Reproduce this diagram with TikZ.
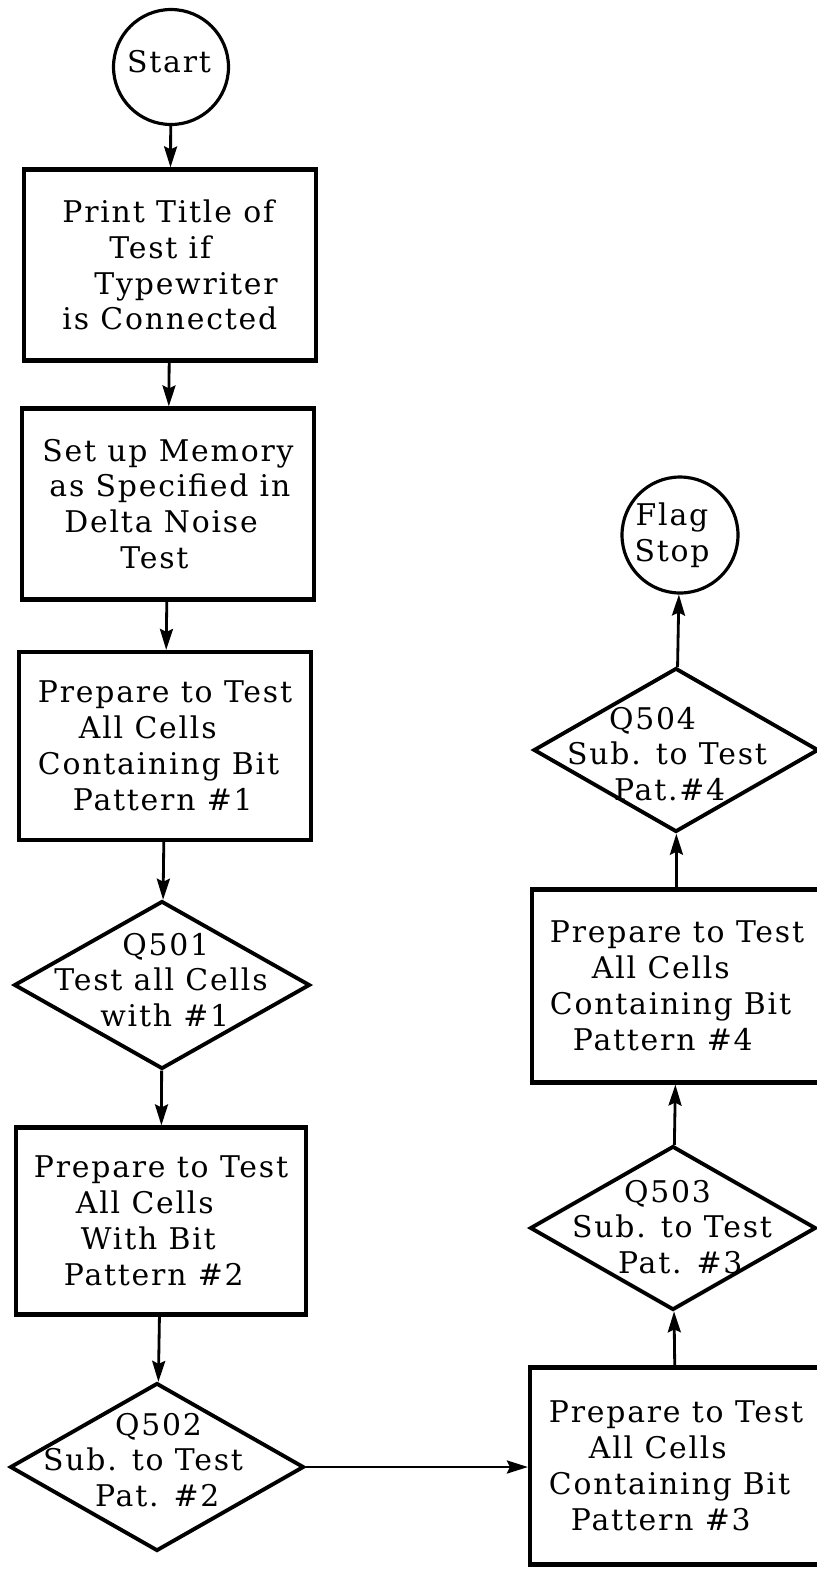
\documentclass[tikz,border=0pt]{standalone}
\usepackage{fontspec}
\setmainfont{DejaVu Serif}[LetterSpace=6]
\usetikzlibrary{shapes.geometric}
\usetikzlibrary{arrows.meta}

% indent in picture pixels
\newcommand{\ind}[1]{\hspace*{#1\dimexpr0.02cm\relax}}

\tikzset{
  txt/.style={font=\fontsize{17}{20.4}\selectfont, align=left},
  box/.style={txt, draw, line width=2.4pt, minimum width=5.84cm, minimum height=3.82cm, inner sep=0pt},
  decision/.style={draw, diamond, line width=2.2pt, minimum width=5.92cm, minimum height=3.36cm, inner sep=0pt},
  term/.style={draw, circle, line width=1.8pt, minimum size=2.3cm, inner sep=0pt},
  flow/.style={-{Stealth[length=0.42cm, width=0.26cm, inset=0.06cm]}, line width=1.6pt}
}

\begin{document}
\begin{tikzpicture}[x=0.02cm, y=-0.02cm]
\useasboundingbox (0,0) rectangle (817,1569);

% left column
\node[term] (start) at (171,67) {};
\node[txt] (startt) at (169,62) {Start};
\node[box] (title) at (170,265) {Print Title of\\\ind{47}Test if\\\ind{32}Typewriter\\is Connected};
\node[box] (memory) at (168,504) {Set up Memory\\\ind{7}as Specified in\\\ind{22}Delta Noise\\\ind{78}Test};
\node[box, minimum height=3.76cm] (pat1) at (165,746) {Prepare to Test\\\ind{41}All Cells\\Containing Bit\\\ind{35}Pattern \#1};
\node[decision] (q501) at (162,985) {};
\node[txt] (q501t) at (161,980) {\ind{68}Q501\\Test all Cells\\\ind{46}with \#1};
\node[box, minimum width=5.8cm, minimum height=3.74cm] (pat2) at (161,1221) {Prepare to Test\\\ind{42}All Cells\\\ind{47}With Bit\\\ind{30}Pattern \#2};
\node[decision, minimum width=5.88cm] (q502) at (157,1467) {};
\node[txt] (q502t) at (143,1460) {\ind{72}Q502\\Sub. to Test\\\ind{52}Pat. \#2};

% right column
\node[box, minimum width=5.84cm, minimum height=3.94cm] (pat3) at (676,1466) {Prepare to Test\\\ind{40}All Cells\\Containing Bit\\\ind{22}Pattern \#3};
\node[decision, minimum width=5.72cm, minimum height=3.28cm] (q503) at (673,1228) {};
\node[txt] (q503t) at (672,1227) {\ind{52}Q503\\Sub. to Test\\\ind{46}Pat. \#3};
\node[box, minimum width=5.8cm, minimum height=3.86cm] (pat4) at (677,986) {Prepare to Test\\\ind{42}All Cells\\Containing Bit\\\ind{23}Pattern \#4};
\node[decision, minimum width=5.7cm, minimum height=3.28cm] (q504) at (676,750) {};
\node[txt] (q504t) at (667,754) {\ind{42}Q504\\Sub. to Test\\\ind{47}Pat.\#4};
\node[term, minimum size=2.32cm] (stop) at (680,535) {};
\node[txt, align=center] (stopt) at (672,535) {Flag\\Stop};

% connectors
\draw[flow] (start) -- (title);
\draw[flow] (title) -- (memory);
\draw[flow] (memory) -- (pat1);
\draw[flow] (pat1) -- (q501);
\draw[flow] (q501) -- (pat2);
\draw[flow] (pat2) -- (q502);
\draw[flow] (q502.east) -- (pat3.west |- q502.east);
\draw[flow] (pat3) -- (q503);
\draw[flow] (q503) -- (pat4);
\draw[flow] (pat4) -- (q504);
\draw[flow] (q504) -- (stop);
\end{tikzpicture}
\end{document}
